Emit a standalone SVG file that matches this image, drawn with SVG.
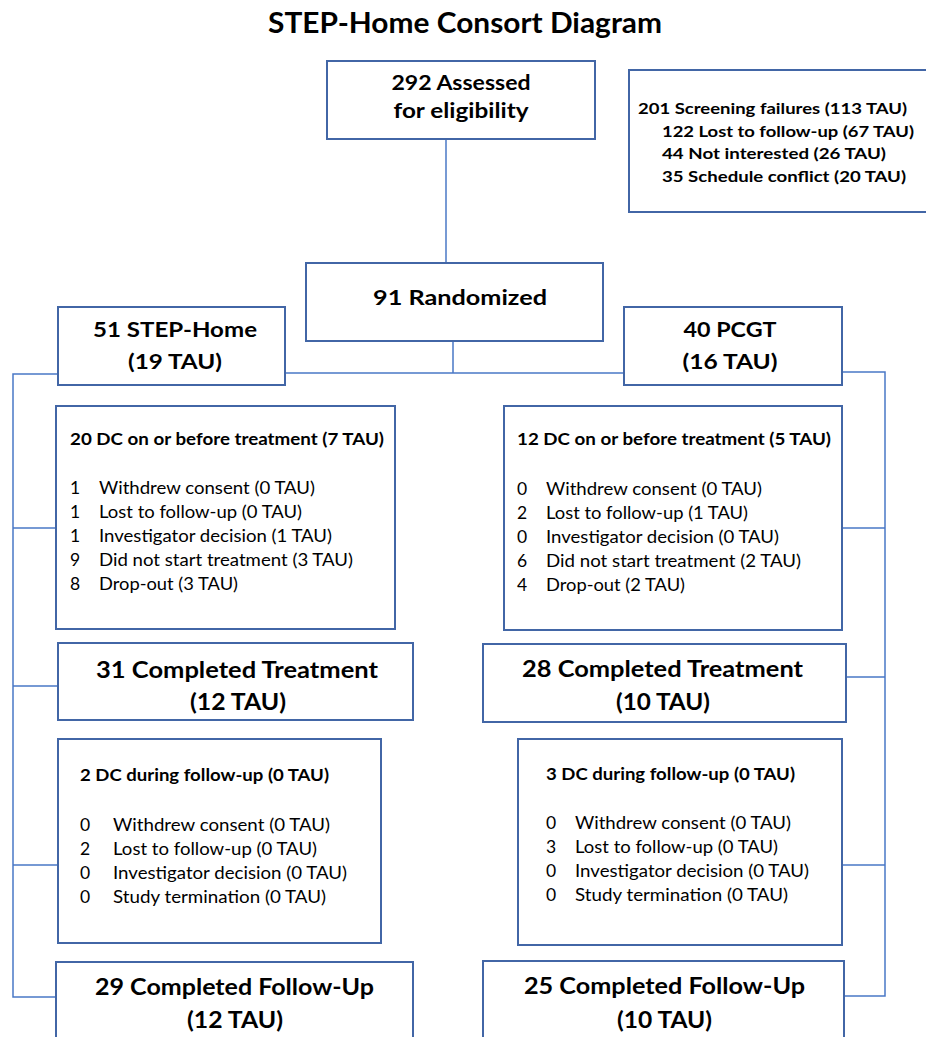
<svg xmlns="http://www.w3.org/2000/svg" width="926" height="1037" viewBox="0 0 926 1037">
<style>
text{font-family:Lato,"Liberation Sans",sans-serif;fill:#000}
.box{fill:#fff;stroke:#4266a6;stroke-width:2}
.conn{fill:none;stroke:#4a78c6;stroke-width:1.5}
.title{font-size:28px;font-weight:bold}
.big{font-size:20px;font-weight:bold;text-anchor:middle}
.big2{font-size:23px;font-weight:bold;text-anchor:middle}
.hdr{font-size:17.5px;font-weight:bold}
.item{font-size:17.5px}
.scr{font-size:16px;font-weight:bold}
</style>
<rect width="926" height="1037" fill="#fff"/>
<text class="title" x="268" y="33" textLength="394" lengthAdjust="spacingAndGlyphs">STEP-Home Consort Diagram</text>
<g id="connectors">
<path class="conn" d="M446 139V263"/>
<path class="conn" d="M453 341V373M285 373H624"/>
<path class="conn" d="M58 374H13V997H56M13 528H56M13 686H58M13 865H58"/>
<path class="conn" d="M842 372H885V996H844M842 528H885M846 677H885M842 865H885"/>
</g>
<g id="assessed">
<rect class="box" x="327" y="61" width="268" height="78"/>
<text class="big" x="461" y="90" textLength="139" lengthAdjust="spacingAndGlyphs">292 Assessed</text>
<text class="big" x="461" y="118" textLength="135" lengthAdjust="spacingAndGlyphs">for eligibility</text>
</g>
<g id="screening">
<rect class="box" x="629" y="70" width="310" height="142"/>
<text class="scr" x="638" y="114" textLength="269" lengthAdjust="spacingAndGlyphs">201 Screening failures (113 TAU)</text>
<text class="scr" x="662" y="137" textLength="252" lengthAdjust="spacingAndGlyphs">122 Lost to follow-up (67 TAU)</text>
<text class="scr" x="662" y="159" textLength="224" lengthAdjust="spacingAndGlyphs">44 Not interested (26 TAU)</text>
<text class="scr" x="662" y="182" textLength="244" lengthAdjust="spacingAndGlyphs">35 Schedule conflict (20 TAU)</text>
</g>
<g id="randomized">
<rect class="box" x="306" y="263" width="297" height="78"/>
<text class="big" x="460" y="305" textLength="174" lengthAdjust="spacingAndGlyphs">91 Randomized</text>
</g>
<g id="stephome">
<rect class="box" x="58" y="307" width="227" height="78"/>
<text class="big" x="175" y="337" textLength="164" lengthAdjust="spacingAndGlyphs">51 STEP-Home</text>
<text class="big" x="175" y="369" textLength="94" lengthAdjust="spacingAndGlyphs">(19 TAU)</text>
</g>
<g id="pcgt">
<rect class="box" x="624" y="307" width="218" height="78"/>
<text class="big" x="730" y="337" textLength="93" lengthAdjust="spacingAndGlyphs">40 PCGT</text>
<text class="big" x="730" y="369" textLength="95" lengthAdjust="spacingAndGlyphs">(16 TAU)</text>
</g>
<g id="dc-left">
<rect class="box" x="56" y="406" width="339" height="223"/>
<text class="hdr" x="70" y="445" textLength="314" lengthAdjust="spacingAndGlyphs">20 DC on or before treatment (7 TAU)</text>
<text class="item" x="70" y="494">1</text><text class="item" x="99" y="494" textLength="216" lengthAdjust="spacingAndGlyphs">Withdrew consent (0 TAU)</text>
<text class="item" x="70" y="518">1</text><text class="item" x="99" y="518" textLength="203" lengthAdjust="spacingAndGlyphs">Lost to follow-up (0 TAU)</text>
<text class="item" x="70" y="542">1</text><text class="item" x="99" y="542" textLength="233" lengthAdjust="spacingAndGlyphs">Investigator decision (1 TAU)</text>
<text class="item" x="70" y="566">9</text><text class="item" x="99" y="566" textLength="254" lengthAdjust="spacingAndGlyphs">Did not start treatment (3 TAU)</text>
<text class="item" x="70" y="590">8</text><text class="item" x="99" y="590" textLength="139" lengthAdjust="spacingAndGlyphs">Drop-out (3 TAU)</text>
</g>
<g id="dc-right">
<rect class="box" x="504" y="406" width="338" height="224"/>
<text class="hdr" x="517" y="445" textLength="314" lengthAdjust="spacingAndGlyphs">12 DC on or before treatment (5 TAU)</text>
<text class="item" x="517" y="495">0</text><text class="item" x="546" y="495" textLength="216" lengthAdjust="spacingAndGlyphs">Withdrew consent (0 TAU)</text>
<text class="item" x="517" y="519">2</text><text class="item" x="546" y="519" textLength="202" lengthAdjust="spacingAndGlyphs">Lost to follow-up (1 TAU)</text>
<text class="item" x="517" y="543">0</text><text class="item" x="546" y="543" textLength="233" lengthAdjust="spacingAndGlyphs">Investigator decision (0 TAU)</text>
<text class="item" x="517" y="567">6</text><text class="item" x="546" y="567" textLength="255" lengthAdjust="spacingAndGlyphs">Did not start treatment (2 TAU)</text>
<text class="item" x="517" y="591">4</text><text class="item" x="546" y="591" textLength="139" lengthAdjust="spacingAndGlyphs">Drop-out (2 TAU)</text>
</g>
<g id="ct-left">
<rect class="box" x="58" y="643" width="355" height="77"/>
<text class="big2" x="237" y="678" textLength="282" lengthAdjust="spacingAndGlyphs">31 Completed Treatment</text>
<text class="big2" x="238" y="710" textLength="96" lengthAdjust="spacingAndGlyphs">(12 TAU)</text>
</g>
<g id="ct-right">
<rect class="box" x="483" y="644" width="363" height="78"/>
<text class="big2" x="662.5" y="677" textLength="281" lengthAdjust="spacingAndGlyphs">28 Completed Treatment</text>
<text class="big2" x="663" y="710" textLength="94" lengthAdjust="spacingAndGlyphs">(10 TAU)</text>
</g>
<g id="dcfu-left">
<rect class="box" x="58" y="739" width="323" height="204"/>
<text class="hdr" x="80" y="781" textLength="249" lengthAdjust="spacingAndGlyphs">2 DC during follow-up (0 TAU)</text>
<text class="item" x="80" y="831">0</text><text class="item" x="113" y="831" textLength="217" lengthAdjust="spacingAndGlyphs">Withdrew consent (0 TAU)</text>
<text class="item" x="80" y="855">2</text><text class="item" x="113" y="855" textLength="204" lengthAdjust="spacingAndGlyphs">Lost to follow-up (0 TAU)</text>
<text class="item" x="80" y="879">0</text><text class="item" x="113" y="879" textLength="234" lengthAdjust="spacingAndGlyphs">Investigator decision (0 TAU)</text>
<text class="item" x="80" y="903">0</text><text class="item" x="113" y="903" textLength="213" lengthAdjust="spacingAndGlyphs">Study termination (0 TAU)</text>
</g>
<g id="dcfu-right">
<rect class="box" x="518" y="739" width="324" height="206"/>
<text class="hdr" x="546" y="780" textLength="249" lengthAdjust="spacingAndGlyphs">3 DC during follow-up (0 TAU)</text>
<text class="item" x="546" y="829">0</text><text class="item" x="575" y="829" textLength="216" lengthAdjust="spacingAndGlyphs">Withdrew consent (0 TAU)</text>
<text class="item" x="546" y="853">3</text><text class="item" x="575" y="853" textLength="203" lengthAdjust="spacingAndGlyphs">Lost to follow-up (0 TAU)</text>
<text class="item" x="546" y="877">0</text><text class="item" x="575" y="877" textLength="234" lengthAdjust="spacingAndGlyphs">Investigator decision (0 TAU)</text>
<text class="item" x="546" y="901">0</text><text class="item" x="575" y="901" textLength="213" lengthAdjust="spacingAndGlyphs">Study termination (0 TAU)</text>
</g>
<g id="cfu-left">
<rect class="box" x="56" y="962" width="357" height="90"/>
<text class="big2" x="234.5" y="995" textLength="279" lengthAdjust="spacingAndGlyphs">29 Completed Follow-Up</text>
<text class="big2" x="235" y="1028" textLength="96" lengthAdjust="spacingAndGlyphs">(12 TAU)</text>
</g>
<g id="cfu-right">
<rect class="box" x="483" y="961" width="361" height="90"/>
<text class="big2" x="664.5" y="994" textLength="281" lengthAdjust="spacingAndGlyphs">25 Completed Follow-Up</text>
<text class="big2" x="664.5" y="1028" textLength="95" lengthAdjust="spacingAndGlyphs">(10 TAU)</text>
</g>
</svg>
